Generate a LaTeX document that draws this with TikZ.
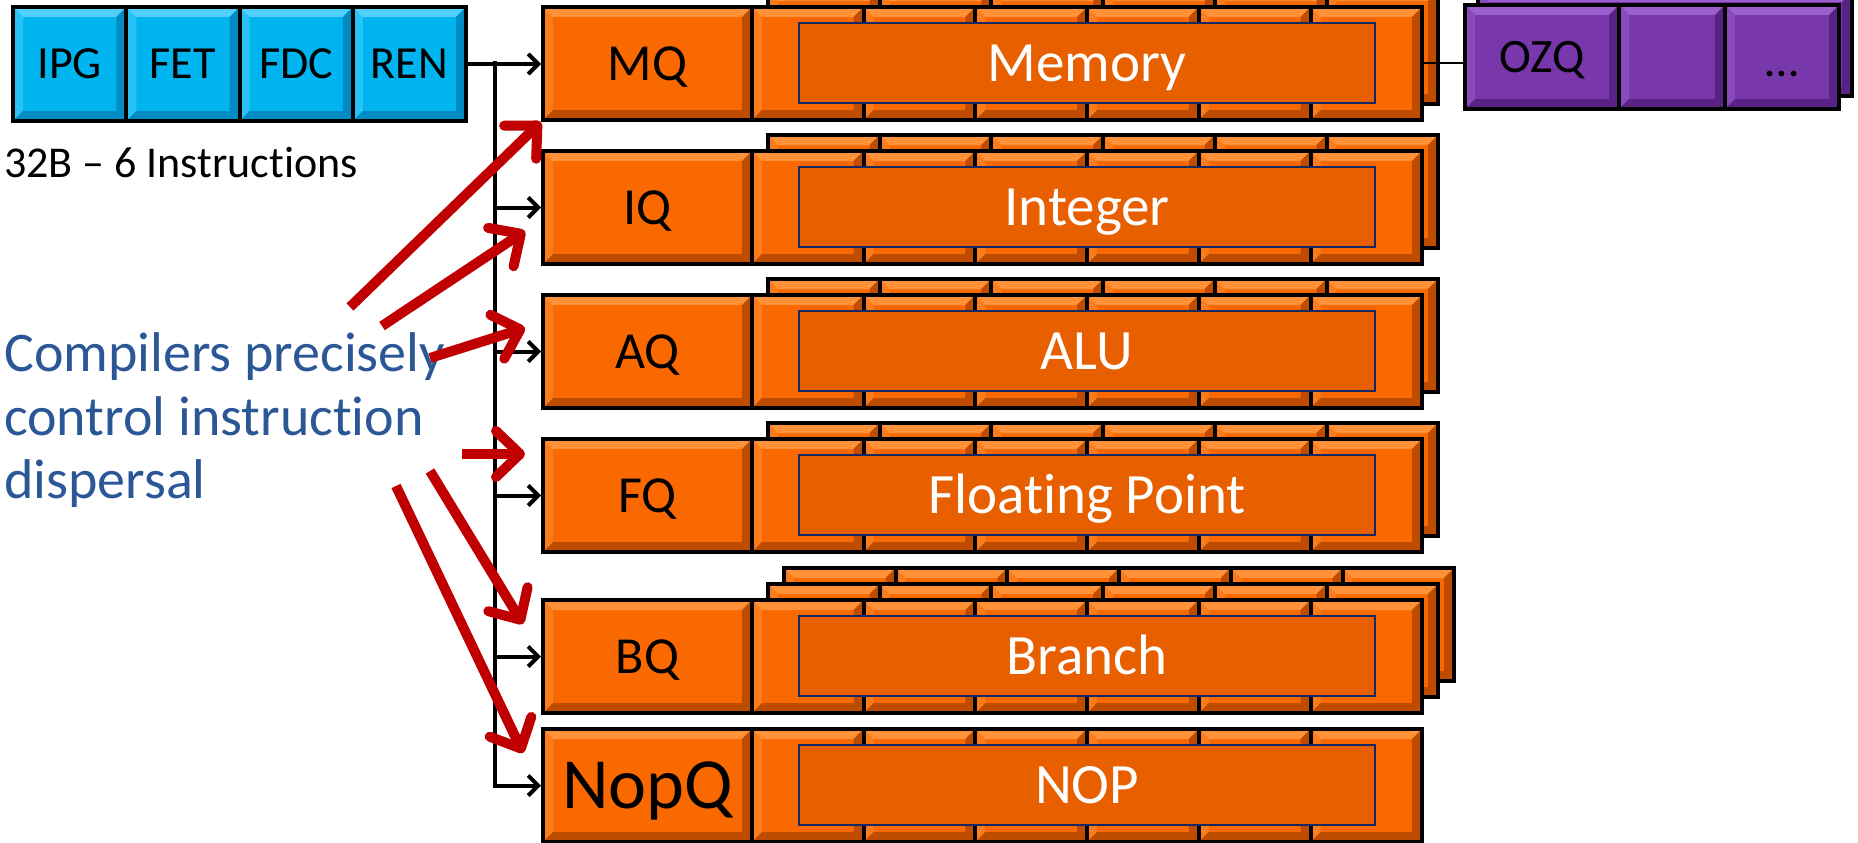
\documentclass[tikz,border=0pt]{standalone}
\usepackage{fontspec}
\setmainfont{Carlito}[Ligatures={NoCommon}]
\usetikzlibrary{arrows.meta}
\definecolor{cyanT}{RGB}{0,180,240}
\definecolor{cyanL}{RGB}{80,208,250}
\definecolor{cyanD}{RGB}{0,140,195}
\definecolor{orT}{RGB}{250,104,0}
\definecolor{orL}{RGB}{255,145,55}
\definecolor{orD}{RGB}{190,76,0}
\definecolor{orIn}{RGB}{232,95,0}
\definecolor{puT}{RGB}{120,55,170}
\definecolor{puL}{RGB}{155,95,205}
\definecolor{puD}{RGB}{88,35,132}
\definecolor{redA}{RGB}{192,0,0}
\definecolor{blueTxt}{RGB}{43,87,151}
\definecolor{navy}{RGB}{20,40,100}
\begin{document}
\begin{tikzpicture}[x=1pt,y=-1pt,
  bev/.style 2 args={path picture={
    \coordinate (pA) at (path picture bounding box.north west);
    \coordinate (pB) at (path picture bounding box.north east);
    \coordinate (pC) at (path picture bounding box.south east);
    \coordinate (pD) at (path picture bounding box.south west);
    \fill[#1] (pA) -- (pB) -- ([shift={(-10pt,-10pt)}]pB) -- ([shift={(10pt,-10pt)}]pA) -- cycle;
    \fill[#1,opacity=0.5] (pA) -- (pD) -- ([shift={(10pt,10pt)}]pD) -- ([shift={(10pt,-10pt)}]pA) -- cycle;
    \fill[#2] (pD) -- (pC) -- ([shift={(-10pt,10pt)}]pC) -- ([shift={(10pt,10pt)}]pD) -- cycle;
    \fill[#2] (pB) -- (pC) -- ([shift={(-10pt,10pt)}]pC) -- ([shift={(-10pt,-10pt)}]pB) -- cycle;
  }},
  box/.style={draw=black, line width=4pt, anchor=north west, inner sep=0pt},
  tileC/.style={box, fill=cyanT, bev={cyanL}{cyanD}, minimum height=114pt, minimum width=113.25pt,
    text height=29.6pt, text depth=0pt, font=\fontsize{46}{46}\selectfont},
  tileO/.style={box, fill=orT, bev={orL}{orD}, minimum height=113pt},
  tileP/.style={box, fill=puT, bev={puL}{puD}, minimum height=104pt,
    text height=31pt, text depth=0pt, font=\fontsize{48}{48}\selectfont},
  funit/.style={draw=navy, line width=2pt, fill=orIn, text=white, anchor=north west, inner sep=0pt,
    minimum width=576pt, minimum height=80pt, font=\fontsize{57}{57}\selectfont, text height=36.7pt, text depth=0pt},
  bus/.style={line width=4pt, -{Straight Barb[length=10pt,width=20pt]}},
  redarrow/.style={draw=redA, line width=10pt, -{Straight Barb[length=24pt,width=46pt,round]}},
  plain/.style={anchor=base west, inner sep=0pt},
]
\useasboundingbox (0,0) rectangle (1858,843);

% front-end stages
\node[tileC] (ipg) at (11,5) {IPG};
\node[tileC] (fet) at (124.25,5) {FET};
\node[tileC] (fdc) at (237.5,5) {FDC};
\node[tileC] (ren) at (350.75,5) {REN};
\node[plain, font=\fontsize{44}{44}\selectfont] (note) at (4,177) {32B -- 6 Instructions};

% purple back layer
\node[tileP, minimum width=374pt] at (1476,-10) {};

% execution rows
\foreach \nm/\yy/\ql/\fl/\nb/\qf in {mq/5/MQ/Memory/1/52, iq/149/IQ/Integer/1/52, aq/293/AQ/ALU/1/52,
   fq/437/FQ/Floating Point/1/52, bq/598/BQ/Branch/2/52, nopq/727/NopQ/NOP/0/72}{
  \ifnum\nb>0
    \foreach \L in {\nb,...,1}{
      \foreach \i in {0,...,5}{
        \node[tileO, minimum width=111.7pt] at ({750+16*\L+111.7*\i},{\yy-16*\L}) {};
      }
    }
  \fi
  \foreach \i in {0,...,5}{
    \node[tileO, minimum width=111.7pt] (\nm T\i) at ({750+111.7*\i},\yy) {};
  }
  \pgfmathsetmacro\th{0.644*\qf}
  \node[tileO, minimum width=209pt, font=\fontsize{\qf}{\qf}\selectfont, text height=\th pt, text depth=0pt] (\nm) at (541,\yy) {\ql};
  \node[funit] (\nm F) at (798,{\yy+17}) {\fl};
}

% memory to purple queue
\draw[line width=2pt] (mqT5.east) -- (mqT5.east -| 1463,0);
\node[tileP, minimum width=154pt] (ozq) at (1463,3) {OZQ};
\node[tileP, minimum width=106pt] (pu2) at (1617,3) {};
\node[tileP, minimum width=114pt, text height=40pt] (pu3) at (1723,3) {…};

% dispersal bus
\coordinate (bt) at (495,61.5);
\draw[bus] (ren.east) -- (ren.east -| mq.west);
\draw[bus] (bt) |- (nopq.west);
\foreach \q in {iq,aq,fq,bq}{
  \draw[bus] (bt |- \q.west) -- (\q.west);
}

% annotation
\node[plain, text=blueTxt, font=\fontsize{56}{56}\selectfont] (c1) at (4,371) {Compilers precisely};
\node[plain, text=blueTxt, font=\fontsize{56}{56}\selectfont] (c2) at (4,435) {control instruction};
\node[plain, text=blueTxt, font=\fontsize{56}{56}\selectfont] (c3) at (4,498) {dispersal};

\coordinate (r1s) at (350,307);
\coordinate (r2s) at (382,326); \coordinate (r2e) at (525,231);
\coordinate (r3s) at (430,358); \coordinate (r3e) at (525,328);
\coordinate (r4s) at (462,454); \coordinate (r4e) at (525,454);
\coordinate (r5s) at (430,471); \coordinate (r5e) at (523,624);
\coordinate (r6s) at (396,486); \coordinate (r6e) at (523,753);
\draw[redarrow] (r1s) -- (mq.south west);
\draw[redarrow] (r2s) -- (r2e);
\draw[redarrow] (r3s) -- (r3e);
\draw[redarrow] (r4s) -- (r4e);
\draw[redarrow] (r5s) -- (r5e);
\draw[redarrow] (r6s) -- (r6e);
\end{tikzpicture}
\end{document}
